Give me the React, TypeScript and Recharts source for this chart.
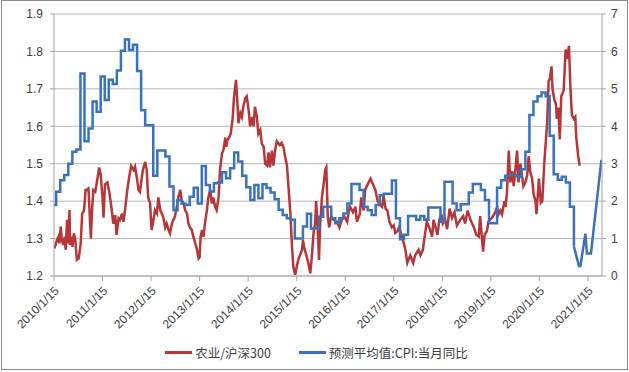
import React from 'react';
import { LineChart, Line, XAxis, YAxis, CartesianGrid, Legend } from 'recharts';

// ---------- categories / labels ----------
const redName = '农业/沪深300';
const blueName = '预测平均值:CPI:当月同比';
const xTickYears = [2010, 2011, 2012, 2013, 2014, 2015, 2016, 2017, 2018, 2019, 2020, 2021];
const leftTicks = [1.2, 1.3, 1.4, 1.5, 1.6, 1.7, 1.8, 1.9];
const rightTicks = [0, 1, 2, 3, 4, 5, 6, 7];

// ---------- 农业/沪深300 (time in years, 2010 = 2010/1/15) ----------
const redT = [
  2010.01, 2010.06, 2010.09, 2010.11, 2010.14, 2010.16, 2010.19, 2010.22, 2010.24, 2010.27,
  2010.29, 2010.32, 2010.33, 2010.36, 2010.38, 2010.41, 2010.44, 2010.47, 2010.51, 2010.55,
  2010.58, 2010.62, 2010.65, 2010.67, 2010.71, 2010.76, 2010.78, 2010.81, 2010.85, 2010.89,
  2010.93, 2010.96, 2011.00, 2011.02, 2011.05, 2011.10, 2011.14, 2011.19, 2011.22, 2011.26,
  2011.29, 2011.33, 2011.36, 2011.40, 2011.43, 2011.46, 2011.51, 2011.55, 2011.59, 2011.64,
  2011.67, 2011.71, 2011.74, 2011.77, 2011.83, 2011.88, 2011.91, 2011.94, 2011.98, 2012.01,
  2012.05, 2012.08, 2012.12, 2012.15, 2012.19, 2012.22, 2012.25, 2012.29, 2012.32, 2012.36,
  2012.39, 2012.43, 2012.46, 2012.49, 2012.53, 2012.56, 2012.60, 2012.63, 2012.67, 2012.70,
  2012.74, 2012.77, 2012.80, 2012.84, 2012.87, 2012.91, 2012.94, 2012.98, 2013.00, 2013.02,
  2013.05, 2013.08, 2013.11, 2013.15, 2013.18, 2013.22, 2013.25, 2013.28, 2013.32, 2013.35,
  2013.39, 2013.42, 2013.46, 2013.49, 2013.53, 2013.55, 2013.57, 2013.61, 2013.64, 2013.68,
  2013.71, 2013.75, 2013.78, 2013.80, 2013.84, 2013.87, 2013.90, 2013.94, 2013.97, 2014.01,
  2014.04, 2014.08, 2014.11, 2014.14, 2014.18, 2014.21, 2014.25, 2014.28, 2014.32, 2014.35,
  2014.39, 2014.42, 2014.45, 2014.49, 2014.52, 2014.56, 2014.59, 2014.65, 2014.69, 2014.73,
  2014.76, 2014.80, 2014.83, 2014.87, 2014.90, 2014.93, 2014.97, 2015.00, 2015.04, 2015.07,
  2015.11, 2015.13, 2015.15, 2015.21, 2015.24, 2015.28, 2015.31, 2015.35, 2015.38, 2015.40,
  2015.43, 2015.46, 2015.48, 2015.52, 2015.55, 2015.59, 2015.61, 2015.64, 2015.67, 2015.71,
  2015.76, 2015.83, 2015.88, 2015.93, 2015.98, 2016.04, 2016.07, 2016.10, 2016.16, 2016.21,
  2016.24, 2016.30, 2016.33, 2016.38, 2016.41, 2016.48, 2016.52, 2016.57, 2016.62, 2016.67,
  2016.72, 2016.76, 2016.79, 2016.83, 2016.87, 2016.91, 2016.96, 2017.00, 2017.03, 2017.08,
  2017.11, 2017.17, 2017.24, 2017.28, 2017.34, 2017.40, 2017.44, 2017.51, 2017.55, 2017.60,
  2017.63, 2017.68, 2017.73, 2017.79, 2017.82, 2017.87, 2017.90, 2017.94, 2017.98, 2018.01,
  2018.06, 2018.10, 2018.15, 2018.20, 2018.25, 2018.30, 2018.37, 2018.43, 2018.47, 2018.52,
  2018.58, 2018.65, 2018.70, 2018.75, 2018.78, 2018.80, 2018.84, 2018.87, 2018.92, 2018.95,
  2019.02, 2019.09, 2019.13, 2019.16, 2019.20, 2019.23, 2019.28, 2019.30, 2019.33, 2019.37,
  2019.40, 2019.44, 2019.47, 2019.51, 2019.54, 2019.57, 2019.61, 2019.64, 2019.67, 2019.71,
  2019.75, 2019.78, 2019.81, 2019.85, 2019.88, 2019.92, 2019.94, 2019.99, 2020.03, 2020.06,
  2020.10, 2020.16, 2020.19, 2020.22, 2020.25, 2020.27, 2020.31, 2020.34, 2020.36, 2020.39,
  2020.42, 2020.45, 2020.50, 2020.54, 2020.57, 2020.61, 2020.64, 2020.67, 2020.71, 2020.74,
  2020.76, 2020.80, 2020.83,
];
const redValues = [
  1.274, 1.296, 1.305, 1.287, 1.332, 1.296, 1.283, 1.305, 1.27, 1.35,
  1.287, 1.376, 1.283, 1.305, 1.278, 1.314, 1.296, 1.243, 1.247, 1.287,
  1.366, 1.376, 1.43, 1.43, 1.434, 1.30, 1.366, 1.43, 1.425, 1.456,
  1.49, 1.472, 1.41, 1.356, 1.445, 1.45, 1.423, 1.376, 1.34, 1.363,
  1.31, 1.354, 1.35, 1.367, 1.345, 1.372, 1.43, 1.465, 1.494, 1.483,
  1.492, 1.46, 1.43, 1.425, 1.483, 1.505, 1.483, 1.41, 1.394, 1.323,
  1.35, 1.376, 1.367, 1.41, 1.376, 1.367, 1.358, 1.33, 1.34, 1.323,
  1.314, 1.34, 1.35, 1.358, 1.385, 1.41, 1.43, 1.403, 1.394, 1.376,
  1.367, 1.34, 1.33, 1.323, 1.305, 1.287, 1.274, 1.247, 1.25, 1.305,
  1.323, 1.305, 1.34, 1.376, 1.41, 1.43, 1.394, 1.41, 1.385, 1.376,
  1.41, 1.483, 1.527, 1.536, 1.57, 1.545, 1.563, 1.57, 1.58, 1.62,
  1.68, 1.724, 1.66, 1.608, 1.635, 1.625, 1.652, 1.675, 1.68, 1.643,
  1.6, 1.625, 1.6, 1.652, 1.625, 1.58, 1.59, 1.554, 1.545, 1.50,
  1.495, 1.53, 1.49, 1.535, 1.495, 1.54, 1.56, 1.55, 1.556, 1.543,
  1.52, 1.495, 1.44, 1.367, 1.287, 1.225, 1.203, 1.225, 1.247, 1.256,
  1.27, 1.296, 1.278, 1.25, 1.234, 1.207, 1.25, 1.32, 1.338, 1.40,
  1.338, 1.243, 1.33, 1.41, 1.44, 1.485, 1.49, 1.36, 1.33, 1.36,
  1.35, 1.345, 1.33, 1.35, 1.36, 1.345, 1.37, 1.385, 1.37, 1.385,
  1.345, 1.365, 1.41, 1.375, 1.43, 1.45, 1.46, 1.445, 1.43, 1.40,
  1.39, 1.385, 1.415, 1.38, 1.375, 1.345, 1.33, 1.335, 1.315, 1.32,
  1.33, 1.305, 1.27, 1.235, 1.255, 1.235, 1.255, 1.27, 1.255, 1.27,
  1.30, 1.345, 1.33, 1.305, 1.35, 1.325, 1.31, 1.35, 1.365, 1.34,
  1.35, 1.325, 1.38, 1.355, 1.37, 1.335, 1.35, 1.36, 1.34, 1.375,
  1.35, 1.33, 1.31, 1.305, 1.36, 1.325, 1.265, 1.31, 1.32, 1.345,
  1.355, 1.37, 1.385, 1.365, 1.375, 1.365, 1.40, 1.385, 1.42, 1.535,
  1.45, 1.48, 1.44, 1.49, 1.535, 1.45, 1.50, 1.47, 1.44, 1.45,
  1.47, 1.52, 1.48, 1.46, 1.42, 1.40, 1.365, 1.46, 1.395, 1.40,
  1.50, 1.61, 1.72, 1.73, 1.76, 1.70, 1.67, 1.66, 1.62, 1.65,
  1.565, 1.68, 1.695, 1.805, 1.78, 1.815, 1.70, 1.63, 1.62, 1.625,
  1.57, 1.52, 1.495,
];

// ---------- 预测平均值:CPI:当月同比 (monthly, from 2010/1) ----------
const blueStartYear = 2010;
const blueMonthly = [
  1.9, 2.25, 2.56, 2.7, 3.0, 3.32, 3.38, 5.41, 3.6, 3.94, 4.66, 4.39,
  5.33, 4.7, 5.24, 5.13, 5.49, 6.02, 6.32, 6.04, 6.18, 5.48, 4.43, 4.03,
  4.03, 2.68, 3.35, 3.35, 3.19, 2.39, 1.76, 2.03, 1.93, 1.9, 2.12, 2.36,
  1.94, 2.94, 2.43, 2.26, 2.48, 2.5, 2.77, 2.61, 2.88, 3.3, 3.06, 2.68,
  2.37, 2.03, 2.43, 2.08, 2.45, 2.35, 2.23, 2.05, 1.77, 1.63, 1.54, 1.5,
  1.0, 1.0, 1.32, 1.66, 1.27, 1.27, 1.58, 1.85, 1.85, 1.54, 1.41, 1.54,
  1.67, 1.94, 2.46, 2.46, 2.3, 1.85, 1.76, 1.63, 1.9, 2.16, 2.2, 2.2,
  2.55, 1.54, 0.98, 1.1, 1.6, 1.6, 1.5, 1.6, 1.5, 1.83, 1.83, 1.83,
  1.45, 2.52, 2.52, 1.94, 1.76, 1.92, 1.92, 2.23, 2.46, 2.46, 2.3, 2.03,
  1.41, 1.41, 2.36, 2.56, 2.68, 2.7, 2.7, 2.65, 2.85, 3.32, 4.3, 4.66,
  4.8, 4.9, 4.8, 3.75, 2.72, 2.57, 2.65, 2.5, 1.85, 0.78,
];
const blueTailT = [2020.815, 2020.845, 2020.948, 2020.979, 2021.062, 2021.278];
const blueTailValues = [0.27, 0.27, 1.13, 0.6, 0.6, 3.1];

// ---------- build series for the library ----------
// time axis in years where the integer part is the 15th of January
const monthStartT = (k: number) => blueStartYear + k / 12 - 14 / 365.25;

const redData = redT.map((t, i) => ({ t, v: redValues[i] }));
const blueStepData = blueMonthly.map((v, k) => ({ t: Math.max(blueStartYear, monthStartT(k)), v }));
const lastK = blueMonthly.length - 1;
const blueTailData = [
  { t: monthStartT(lastK), v: blueMonthly[lastK] },
  ...blueTailT.map((t, i) => ({ t, v: blueTailValues[i] })),
];

const RED = '#B5373A';
const BLUE = '#3B72B9';
const AXIS = '#A6A6A6';
const GRID = '#B9B9B9';
const TEXT = '#404040';
const NUM_FONT = '"Liberation Sans", Arial, sans-serif';
const CJK_FONT = '"Noto Sans CJK SC", "Noto Sans", sans-serif';

const XTick = (props: any) => {
  const { x, y, payload } = props;
  return (
    <g transform={`translate(${x},${y})`}>
      <text
        x={-2}
        y={0}
        dy={10}
        textAnchor="end"
        transform="rotate(-45)"
        fontSize={12}
        fontFamily={NUM_FONT}
        fill={TEXT}
      >
        {`${payload.value}/1/15`}
      </text>
    </g>
  );
};

const LegendContent = () => (
  <div
    style={{
      display: 'flex',
      justifyContent: 'center',
      alignItems: 'center',
      height: 20,
      gap: 28,
      fontFamily: CJK_FONT,
      fontSize: 12.5,
      color: TEXT,
      paddingLeft: 4,
    }}
  >
    <span style={{ display: 'flex', alignItems: 'center' }}>
      <span style={{ display: 'inline-block', width: 27, height: 3, background: RED, marginRight: 3 }} />
      {redName}
    </span>
    <span style={{ display: 'flex', alignItems: 'center' }}>
      <span style={{ display: 'inline-block', width: 27, height: 3, background: BLUE, marginRight: 3 }} />
      {blueName}
    </span>
  </div>
);

export default function App() {
  return (
    <div style={{ position: 'relative', width: 629, height: 372, background: '#fff' }}>
      <style>{'body{margin:0;background:#fff;}'}</style>
      <LineChart width={629} height={372} margin={{ top: 14, right: 0, bottom: 10, left: 0 }}>
        <CartesianGrid yAxisId="L" vertical={false} stroke={GRID} strokeWidth={1} />
        <XAxis
          type="number"
          dataKey="t"
          domain={[2010, 2021.29]}
          ticks={xTickYears}
          interval={0}
          allowDataOverflow
          height={66}
          tickSize={5}
          axisLine={{ stroke: AXIS }}
          tickLine={{ stroke: AXIS }}
          tick={<XTick />}
        />
        <YAxis
          yAxisId="L"
          domain={[1.2, 1.9]}
          ticks={leftTicks}
          interval={0}
          width={54}
          tickSize={4}
          tickMargin={7}
          axisLine={{ stroke: AXIS }}
          tickLine={{ stroke: AXIS }}
          tickFormatter={(v: number) => v.toFixed(1)}
          tick={{ fontSize: 12, fill: TEXT, fontFamily: NUM_FONT }}
        />
        <YAxis
          yAxisId="R"
          orientation="right"
          domain={[0, 7]}
          ticks={rightTicks}
          interval={0}
          width={27}
          tickSize={4}
          tickMargin={5}
          axisLine={{ stroke: AXIS }}
          tickLine={{ stroke: AXIS }}
          tick={{ fontSize: 12, fill: TEXT, fontFamily: NUM_FONT }}
        />
        <Legend verticalAlign="bottom" align="center" content={() => <LegendContent />} />
        <Line
          yAxisId="L"
          data={redData}
          dataKey="v"
          name={redName}
          type="linear"
          stroke={RED}
          strokeWidth={2.5}
          dot={false}
          activeDot={false}
          isAnimationActive={false}
        />
        <Line
          yAxisId="R"
          data={blueStepData}
          dataKey="v"
          name={blueName}
          type="stepAfter"
          stroke={BLUE}
          strokeWidth={2.5}
          dot={false}
          activeDot={false}
          isAnimationActive={false}
        />
        <Line
          yAxisId="R"
          data={blueTailData}
          dataKey="v"
          name={blueName}
          legendType="none"
          type="linear"
          stroke={BLUE}
          strokeWidth={2.5}
          dot={false}
          activeDot={false}
          isAnimationActive={false}
        />
      </LineChart>
      <div
        style={{
          position: 'absolute',
          left: 1,
          top: 0,
          width: 627,
          height: 370,
          boxSizing: 'border-box',
          border: '1px solid #8A8A8A',
          pointerEvents: 'none',
        }}
      />
    </div>
  );
}
